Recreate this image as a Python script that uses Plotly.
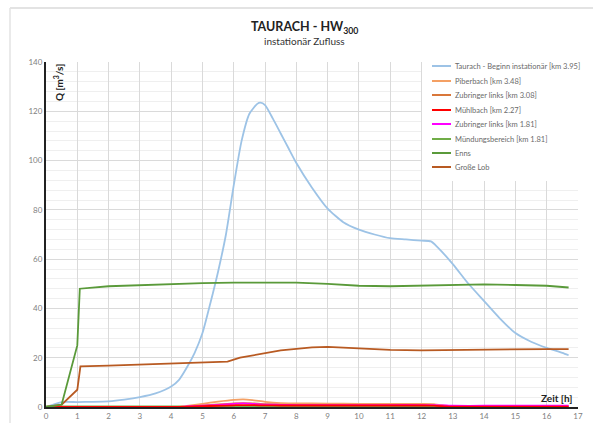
import plotly.graph_objects as go

# ---------------- data ----------------
t_taurach = [0, 0.5, 1, 1.5, 2, 2.5, 3, 3.5, 4, 4.25, 4.5, 4.75, 5, 5.25, 5.5, 5.75, 6, 6.25, 6.5, 6.75, 6.85,
             7, 7.25, 7.5, 7.75, 8, 8.5, 9, 9.5, 10, 10.5, 11, 11.5, 12, 12.3, 12.5, 13, 13.5, 14, 14.5, 15,
             15.5, 16, 16.5, 16.7]
q_taurach = [0, 2, 2, 2.1, 2.3, 3, 4, 5.5, 8.3, 11, 16, 22, 30, 42, 55, 70, 90, 108, 119, 123, 123.5,
             122.5, 117, 111, 105, 99, 89, 80.5, 75, 72, 70, 68.5, 68, 67.5, 67.2, 65, 58, 50, 43, 36, 30,
             26.5, 24, 22, 21]

t_enns = [0, 0.5, 1.0, 1.08, 2, 3, 4, 5, 6, 7, 8, 9, 10, 11, 12, 13, 14, 15, 16, 16.7]
q_enns = [0, 1, 25, 48, 49, 49.5, 50, 50.3, 50.5, 50.5, 50.5, 50, 49.2, 49, 49.2, 49.5, 49.8, 49.5, 49.2, 48.5]

t_lob = [0, 0.5, 1.0, 1.1, 2, 3, 4, 5, 5.5, 5.8, 6.2, 7, 7.5, 8, 8.5, 9, 9.5, 10, 11, 12, 13, 14, 15, 16, 16.7]
q_lob = [0, 1, 7, 16.5, 16.8, 17.2, 17.5, 17.8, 18, 18.4, 20, 22, 23, 23.6, 24.2, 24.4, 24.1, 23.7, 23.2, 23,
         23.2, 23.4, 23.6, 23.5, 23.5]

t_small = [0, 4.2, 4.5, 5, 5.5, 6, 6.3, 6.6, 7, 7.5, 8, 9, 10, 11, 12, 12.4, 12.8, 13, 14, 15, 16, 16.7]
q_piberbach = [0, 0, 0.5, 1.3, 2.2, 2.9, 3.1, 2.8, 2.1, 1.6, 1.5, 1.4, 1.3, 1.3, 1.3, 1.2, 0.4, 0.2, 0.2, 0.2, 0.2, 0.2]
q_zub308 = [0, 0, 0.2, 0.6, 1.1, 1.5, 1.6, 1.5, 1.2, 1.1, 1.0, 1.0, 0.9, 0.9, 0.9, 0.9, 0.3, 0.1, 0.1, 0.1, 0.1, 0.1]
q_muehlbach = [0, 0, 0.1, 0.3, 0.5, 0.7, 0.8, 0.75, 0.65, 0.6, 0.6, 0.6, 0.6, 0.6, 0.6, 0.55, 0.2, 0.1, 0.1, 0.1, 0.1, 0.1]
q_zub181 = [0, 0, 0.2, 0.5, 0.9, 1.3, 1.5, 1.3, 1.0, 0.9, 0.8, 0.8, 0.8, 0.8, 0.8, 0.75, 0.6, 0.5, 0.5, 0.5, 0.5, 0.5]
q_muendung = [0.2] * len(t_small)

names = ["Taurach - Beginn instationär [km 3.95]", "Piberbach [km 3.48]", "Zubringer links [km 3.08]",
         "Mühlbach [km 2.27]", "Zubringer links [km 1.81]", "Mündungsbereich [km 1.81]", "Enns", "Große Lob"]
colors = ["#9DC3E6", "#F4A064", "#D9773A", "#FF0000", "#FF00FF", "#70AD47", "#5A9A3A", "#B85A22"]

x_ticks = list(range(0, 18))
y_ticks = list(range(0, 141, 20))

# ---------------- figure ----------------
fig = go.Figure()
series = [
    (t_taurach, q_taurach, 0, "spline"),
    (t_small, q_muendung, 5, "linear"),
    (t_small, q_zub308, 2, "spline"),
    (t_small, q_piberbach, 1, "spline"),
    (t_small, q_zub181, 4, "spline"),
    (t_small, q_muehlbach, 3, "spline"),
    (t_lob, q_lob, 7, "linear"),
    (t_enns, q_enns, 6, "linear"),
]
for xs, ys, i, shp in series:
    fig.add_trace(go.Scatter(x=xs, y=ys, mode="lines", name=names[i],
                             line=dict(color=colors[i], width=1.8, shape=shp, smoothing=0.6),
                             showlegend=False))

L, R, T, B = 46, 15, 62, 16
W, H = 593, 423
pw, ph = W - L - R, H - T - B


def px(xp):
    return (xp - L) / pw


def py(yp):
    return (H - B - yp) / ph


LEG_FONT = "Liberation Sans Narrow, Lato, sans-serif"
TXT_FONT = "Lato, Open Sans, sans-serif"

shapes = []
# outer chart border (faint)
shapes.append(dict(type="line", xref="paper", yref="paper", x0=px(10), x1=px(593), y0=py(8), y1=py(8),
                   line=dict(color="#E3E3E3", width=2), layer="below"))
shapes.append(dict(type="line", xref="paper", yref="paper", x0=px(10), x1=px(10), y0=py(8), y1=py(423),
                   line=dict(color="#E3E3E3", width=1.5), layer="below"))
# legend white box
shapes.append(dict(type="rect", xref="paper", yref="paper", x0=px(422), x1=px(593), y0=py(181), y1=py(50),
                   fillcolor="white", line=dict(width=0), layer="above"))

annotations = []
leg_y = [66, 81, 95, 110, 124, 139, 153, 167]
for i, (n, c) in enumerate(zip(names, colors)):
    yy = py(leg_y[i])
    shapes.append(dict(type="line", xref="paper", yref="paper", x0=px(432), x1=px(451), y0=yy, y1=yy,
                       line=dict(color=c, width=2), layer="above"))
    annotations.append(dict(xref="paper", yref="paper", x=px(453), y=yy, text=n, showarrow=False,
                            xanchor="left", yanchor="middle",
                            font=dict(size=7.5, color="#6A6A6A", family=LEG_FONT)))

annotations.append(dict(xref="paper", yref="paper", x=px(304), y=py(27),
                        text="<b>TAURACH - HW<sub>300</sub></b>", showarrow=False,
                        xanchor="center", yanchor="middle", font=dict(size=12.5, color="#222222", family=TXT_FONT)))
annotations.append(dict(xref="paper", yref="paper", x=px(304), y=py(41),
                        text="instationär Zufluss", showarrow=False,
                        xanchor="center", yanchor="middle", font=dict(size=10, color="#333333", family=TXT_FONT)))
annotations.append(dict(xref="paper", yref="paper", x=px(58), y=py(83),
                        text="<b>Q [m<sup>3</sup>/s]</b>", showarrow=False, textangle=-90,
                        xanchor="center", yanchor="middle", font=dict(size=10, color="#222222", family=TXT_FONT)))
annotations.append(dict(xref="paper", yref="paper", x=px(557), y=py(398),
                        text="<b>Zeit [h]</b>", showarrow=False,
                        xanchor="center", yanchor="middle", font=dict(size=10, color="#222222", family=TXT_FONT)))

fig.update_layout(
    width=W, height=H,
    margin=dict(l=L, r=R, t=T, b=B, autoexpand=False),
    paper_bgcolor="white", plot_bgcolor="white",
    font=dict(family=TXT_FONT),
    shapes=shapes, annotations=annotations,
    showlegend=False,
)
fig.update_xaxes(range=[0, 17], tickvals=x_ticks, ticktext=[str(v) for v in x_ticks],
                 showgrid=True, gridcolor="#DADADA", gridwidth=1, automargin=False,
                 showline=True, linecolor="#222222", linewidth=2,
                 ticks="", tickfont=dict(size=8, color="#7F7F7F"), zeroline=False)
fig.update_yaxes(range=[0, 140], tickvals=y_ticks, ticktext=[str(v) for v in y_ticks],
                 showgrid=True, gridcolor="#DADADA", gridwidth=1, automargin=False,
                 minor=dict(dtick=4, showgrid=True, gridcolor="#EFEFEF", gridwidth=1),
                 showline=True, linecolor="#222222", linewidth=2,
                 ticks="", tickfont=dict(size=8, color="#7F7F7F"), zeroline=False)

fig.write_html("out.html", config={"displayModeBar": False},
               post_script="document.body.style.margin='0px';document.body.style.padding='0px';")
